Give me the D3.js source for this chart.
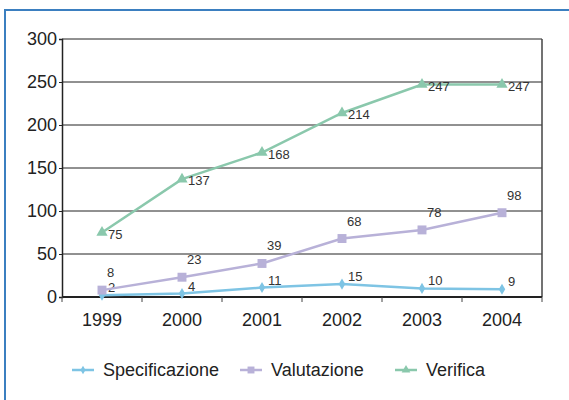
<!DOCTYPE html>
<html>
<head>
<meta charset="utf-8">
<script src="https://cdn.jsdelivr.net/npm/d3@7"></script>
<style>
  body { margin: 0; background: #fff; }
  svg { font-family: "Liberation Sans", Arial, sans-serif; }
</style>
</head>
<body>
<div id="chart"></div>
<script>
// data
var years = ["1999", "2000", "2001", "2002", "2003", "2004"];
var specificazione = [2, 4, 11, 15, 10, 9];
var valutazione = [8, 23, 39, 68, 78, 98];
var verifica = [75, 137, 168, 214, 247, 247];
var yTicks = [0, 50, 100, 150, 200, 250, 300];

var svgWidth = 569;
var svgHeight = 400;

var margin = { top: 39, right: 27, bottom: 103, left: 62 };
var width = svgWidth - margin.left - margin.right;
var height = svgHeight - margin.top - margin.bottom;

var svg = d3.select("#chart")
  .append("svg")
  .attr("width", svgWidth)
  .attr("height", svgHeight);

// outer blue frame (runs off the right and bottom edges)
svg.append("rect")
  .attr("x", 5)
  .attr("y", 10)
  .attr("width", 570)
  .attr("height", 400)
  .attr("fill", "none")
  .attr("stroke", "#3b7fc0")
  .attr("stroke-width", 2);

var chartGroup = svg.append("g")
  .attr("transform", `translate(${margin.left}, ${margin.top})`);

var xScale = d3.scaleBand()
  .domain(years)
  .range([0, width]);

var yScale = d3.scaleLinear()
  .domain([0, 300])
  .range([height, 0]);

// gridlines
chartGroup.append("g")
  .selectAll("line")
  .data(yTicks)
  .enter()
  .append("line")
  .attr("x1", 0)
  .attr("x2", width)
  .attr("y1", d => yScale(d))
  .attr("y2", d => yScale(d))
  .attr("stroke", "#222")
  .attr("stroke-width", 1);

// right border of plot
chartGroup.append("line")
  .attr("x1", width).attr("x2", width)
  .attr("y1", 0).attr("y2", height)
  .attr("stroke", "#444")
  .attr("stroke-width", 1.5);

// y axis
var leftAxis = d3.axisLeft(yScale).tickValues(yTicks).tickSize(3).tickPadding(2);
var yAxis = chartGroup.append("g").call(leftAxis);
yAxis.select(".domain").attr("stroke", "#222").attr("stroke-width", 1.5);
yAxis.selectAll("line").attr("stroke", "#222");
yAxis.selectAll("text")
  .attr("font-size", 18)
  .attr("fill", "#222");

// x axis with ticks at band edges
var xAxis = chartGroup.append("g")
  .attr("transform", `translate(0, ${height})`);
xAxis.append("line")
  .attr("x1", 0).attr("x2", width)
  .attr("stroke", "#222")
  .attr("stroke-width", 2);
var edges = years.map(d => xScale(d)).concat([width]);
xAxis.selectAll(".tk")
  .data(edges)
  .enter()
  .append("line")
  .attr("class", "tk")
  .attr("x1", d => d).attr("x2", d => d)
  .attr("y1", 0).attr("y2", 5)
  .attr("stroke", "#444");
xAxis.selectAll(".lbl")
  .data(years)
  .enter()
  .append("text")
  .attr("class", "lbl")
  .attr("x", d => xScale(d) + xScale.bandwidth() / 2)
  .attr("y", 29)
  .attr("text-anchor", "middle")
  .attr("font-size", 18)
  .attr("fill", "#222")
  .text(d => d);

var series = [
  { name: "Specificazione", values: specificazione, color: "#7ec4e4", shape: d3.symbolDiamond, size: 36, dx: 6, dy: -3 },
  { name: "Valutazione", values: valutazione, color: "#b8b1d8", shape: d3.symbolSquare, size: 80, dx: 5, dy: -13 },
  { name: "Verifica", values: verifica, color: "#8ac8ac", shape: d3.symbolTriangle, size: 55, dx: 6, dy: 6 }
];

var line = d3.line()
  .x((d, i) => xScale(years[i]) + xScale.bandwidth() / 2)
  .y(d => yScale(d));

series.forEach(function(s) {
  chartGroup.append("path")
    .datum(s.values)
    .attr("d", line)
    .attr("fill", "none")
    .attr("stroke", s.color)
    .attr("stroke-width", 2.5);

  chartGroup.selectAll(".m-" + s.name)
    .data(s.values)
    .enter()
    .append("path")
    .attr("d", d3.symbol().type(s.shape).size(s.size))
    .attr("transform", (d, i) => `translate(${xScale(years[i]) + xScale.bandwidth() / 2}, ${yScale(d)})`)
    .attr("fill", s.color);

  chartGroup.selectAll(".l-" + s.name)
    .data(s.values)
    .enter()
    .append("text")
    .attr("x", (d, i) => xScale(years[i]) + xScale.bandwidth() / 2 + s.dx)
    .attr("y", d => yScale(d) + s.dy)
    .attr("font-size", 13)
    .attr("fill", "#333")
    .text(d => d);
});

// legend
var legendX = [72, 240, 395];
var legend = svg.append("g").attr("transform", "translate(0, 370)");
series.forEach(function(s, i) {
  var g = legend.append("g").attr("transform", `translate(${legendX[i]}, 0)`);
  g.append("line")
    .attr("x1", 0).attr("x2", 22)
    .attr("stroke", s.color)
    .attr("stroke-width", 2.5);
  g.append("path")
    .attr("d", d3.symbol().type(s.shape).size(s.size * 0.6))
    .attr("transform", "translate(11, 0)")
    .attr("fill", s.color);
  g.append("text")
    .attr("x", 31)
    .attr("y", 6)
    .attr("font-size", 18)
    .attr("fill", "#222")
    .text(s.name);
});
</script>
</body>
</html>
